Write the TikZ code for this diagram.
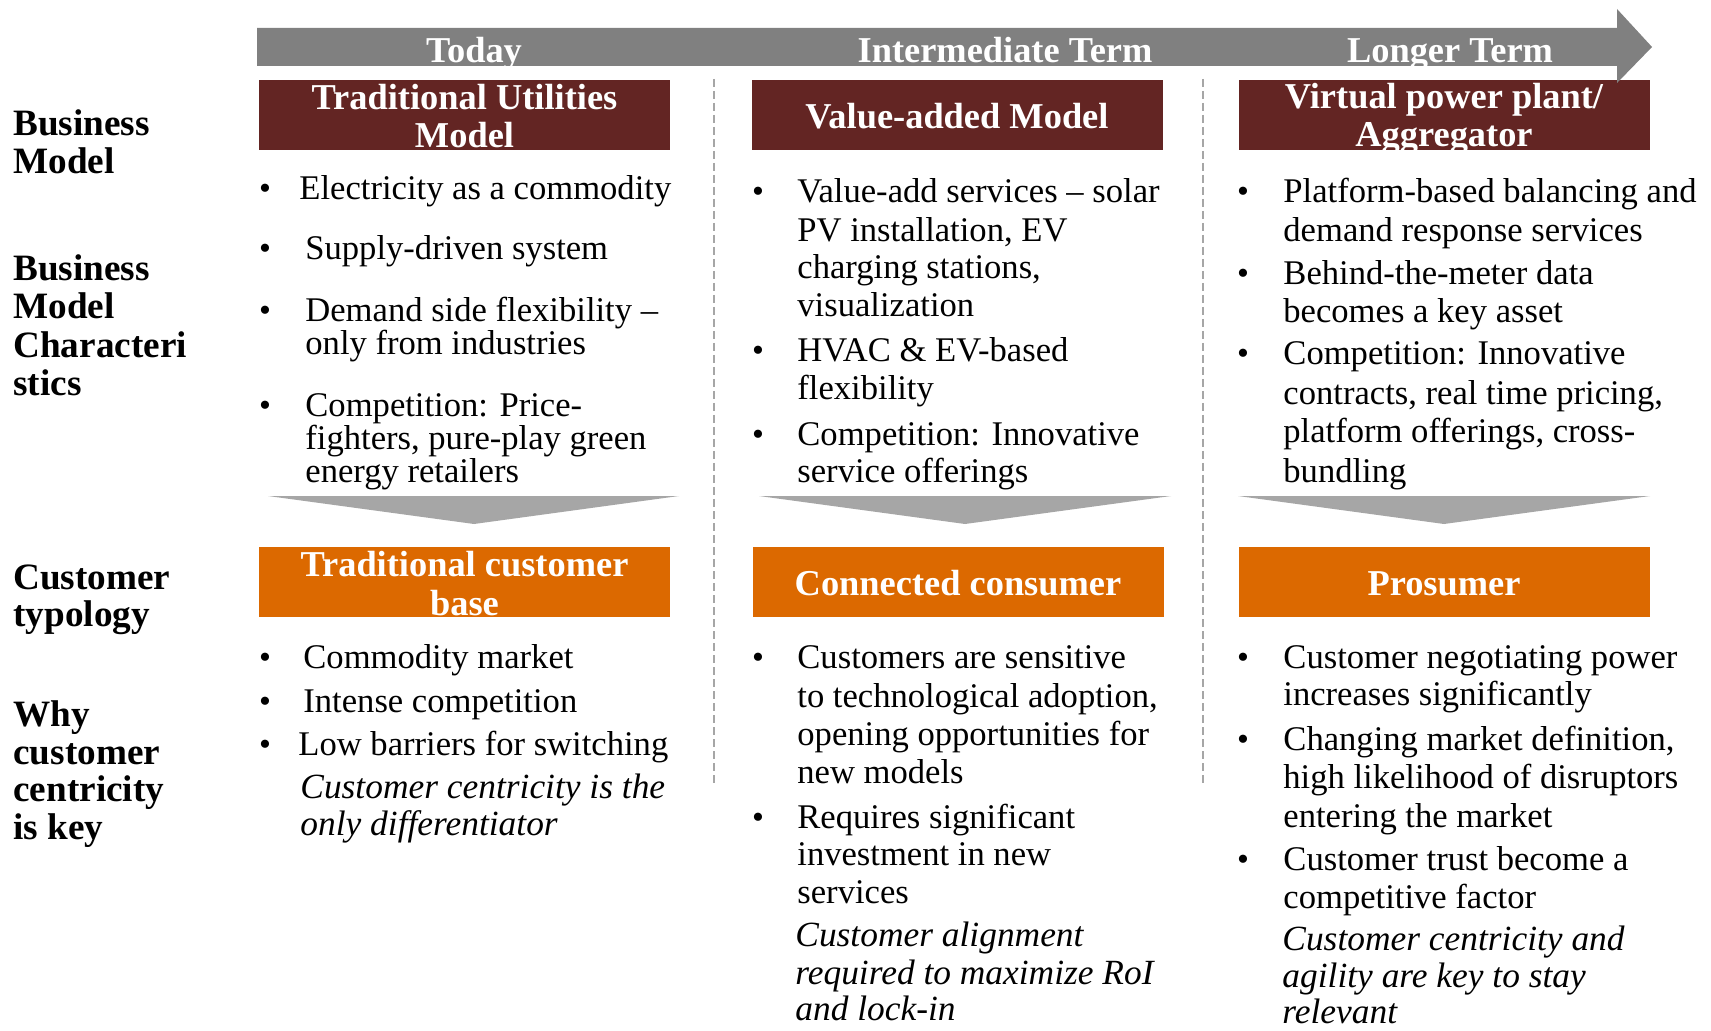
\documentclass[tikz,border=0pt]{standalone}
\usepackage{fontspec}
\setmainfont{Liberation Serif}
\definecolor{modelred}{HTML}{632523}
\definecolor{typeorange}{HTML}{DC6900}
\definecolor{timegray}{HTML}{808080}
\definecolor{chevgray}{HTML}{A6A6A6}
\definecolor{divgray}{HTML}{A6A6A6}
\begin{document}
\begin{tikzpicture}[x=0.5pt,y=-0.5pt,
  body/.style={anchor=base west, inner sep=0pt, font=\fontsize{17.3}{20}\selectfont},
  note/.style={anchor=base west, inner sep=0pt, font=\fontsize{17.7}{20}\selectfont\itshape},
  dot/.style={anchor=base, inner sep=0pt, font=\fontsize{17}{20}\selectfont},
  rowlabel/.style={anchor=base west, inner sep=0pt, font=\fontsize{18.6}{20}\selectfont\bfseries},
  title/.style={anchor=base, inner sep=0pt, text=white, font=\fontsize{18.2}{20}\selectfont\bfseries},
  modelbox/.style={fill=modelred, draw=none, inner sep=0pt, minimum width=205.5pt, minimum height=35pt},
  typebox/.style={fill=typeorange, draw=none, inner sep=0pt, minimum width=205.5pt, minimum height=35pt},
  chevron/.style={fill=chevgray, draw=none},
  timeline/.style={fill=timegray, draw=none},
  divider/.style={draw=divgray, line width=1pt, dash pattern=on 4pt off 2pt}
]
\useasboundingbox (0,0) rectangle (1711,1031);
\fill[white] (0,0) rectangle (1711,1031);

% column dividers
\coordinate (d1t) at (714,79);  \coordinate (d1b) at (714,786);
\coordinate (d2t) at (1203,79); \coordinate (d2b) at (1203,786);
\draw[divider] (d1t) -- (d1b);
\draw[divider] (d2t) -- (d2b);

% business model boxes
\node[modelbox] (bm1) at (464.5,115) {};
\node[modelbox] (bm2) at (957,115) {};
\node[modelbox] (bm3) at (1444,115) {};

% customer typology boxes
\node[typebox] (ct1) at (464.5,582) {};
\node[typebox] (ct2) at (958,582) {};
\node[typebox] (ct3) at (1444,582) {};

% time line arrow
\fill[timeline] (257,28) -- (1617,28) -- (1617,9) -- (1652,47) -- (1617,83) -- (1617,66) -- (257,66) -- cycle;
\node[title] (tToday) at (474,63) {Today};
\node[title] (tMid) at (1005,63) {Intermediate Term};
\node[title] (tLong) at (1450,63) {Longer Term};

% chevrons from characteristics to customer typology
\fill[chevron] (268,496) -- (679,496) -- (474,524) -- cycle;
\fill[chevron] (759,496) -- (1171,496) -- (965,524) -- cycle;
\fill[chevron] (1238,496) -- (1650,496) -- (1444,524) -- cycle;

% box titles
\node[title] (bm1a) at (464.5,110) {Traditional Utilities};
\node[title] (bm1b) at (464.5,148) {Model};
\node[title] (bm2a) at (957,129) {Value-added Model};
\node[title] (bm3a) at (1444,109) {Virtual power plant/};
\node[title] (bm3b) at (1444,147) {Aggregator};
\node[title] (ct1a) at (464.5,576) {Traditional customer};
\node[title] (ct1b) at (464.5,615) {base};
\node[title] (ct2a) at (958,595) {Connected consumer};
\node[title] (ct3a) at (1444,595) {Prosumer};

% row labels
\node[rowlabel] (r1a) at (13,136) {Business};
\node[rowlabel] (r1b) at (13,174) {Model};
\node[rowlabel] (r2a) at (13,281) {Business};
\node[rowlabel] (r2b) at (13,319) {Model};
\node[rowlabel] (r2c) at (13,358) {Characteri};
\node[rowlabel] (r2d) at (13,396) {stics};
\node[rowlabel] (r3a) at (13,589) {Customer};
\node[rowlabel] (r3b) at (13,626) {typology};
\node[rowlabel] (r4a) at (13,726) {Why};
\node[rowlabel] (r4b) at (13,764) {customer};
\node[rowlabel] (r4c) at (13,801) {centricity};
\node[rowlabel] (r4d) at (13,839) {is key};

% column 1: today
\node[dot] (b11) at (265,200) {•};
\node[body] (c1a) at (299,200) {Electricity as a commodity};
\node[dot] (b12) at (265,260) {•};
\node[body] (c1b) at (305,260) {Supply-driven system};
\node[dot] (b13) at (265,322) {•};
\node[body] (c1c) at (305,322) {Demand side flexibility –};
\node[body] (c1d) at (305,355) {only from industries};
\node[dot] (b14) at (265,417) {•};
\node[body] (c1e) at (305,417) {Competition: Price-};
\node[body] (c1f) at (305,450) {fighters, pure-play green};
\node[body] (c1g) at (305,482) {energy retailers};

\node[dot] (b15) at (265,668) {•};
\node[body] (c1h) at (303,668) {Commodity market};
\node[dot] (b16) at (265,712) {•};
\node[body] (c1i) at (303,712) {Intense competition};
\node[dot] (b17) at (265,755) {•};
\node[body] (c1j) at (298,755) {Low barriers for switching};
\node[note] (c1k) at (300,798) {Customer centricity is the};
\node[note] (c1l) at (300,835) {only differentiator};

% column 2: intermediate term
\node[dot] (b21) at (758,203) {•};
\node[body] (c2a) at (797,203) {Value-add services – solar};
\node[body] (c2b) at (797,242) {PV installation, EV};
\node[body] (c2c) at (797,279) {charging stations,};
\node[body] (c2d) at (797,317) {visualization};
\node[dot] (b22) at (758,362) {•};
\node[body] (c2e) at (797,362) {HVAC \& EV-based};
\node[body] (c2f) at (797,400) {flexibility};
\node[dot] (b23) at (758,445) {•};
\node[body] (c2g) at (797,445) {Competition: Innovative};
\node[body] (c2h) at (797,482) {service offerings};

\node[dot] (b24) at (758,668) {•};
\node[body] (c2i) at (797,668) {Customers are sensitive};
\node[body] (c2j) at (797,707) {to technological adoption,};
\node[body] (c2k) at (797,745) {opening opportunities for};
\node[body] (c2l) at (797,783) {new models};
\node[dot] (b25) at (758,828) {•};
\node[body] (c2m) at (797,828) {Requires significant};
\node[body] (c2n) at (797,865) {investment in new};
\node[body] (c2o) at (797,903) {services};
\node[note] (c2p) at (795,946) {Customer alignment};
\node[note] (c2q) at (795,984) {required to maximize RoI};
\node[note] (c2r) at (795,1020) {and lock-in};

% column 3: longer term
\node[dot] (b31) at (1243,203) {•};
\node[body] (c3a) at (1283,203) {Platform-based balancing and};
\node[body] (c3b) at (1283,242) {demand response services};
\node[dot] (b32) at (1243,285) {•};
\node[body] (c3c) at (1283,285) {Behind-the-meter data};
\node[body] (c3d) at (1283,323) {becomes a key asset};
\node[dot] (b33) at (1243,365) {•};
\node[body] (c3e) at (1283,365) {Competition: Innovative};
\node[body] (c3f) at (1283,405) {contracts, real time pricing,};
\node[body] (c3g) at (1283,443) {platform offerings, cross-};
\node[body] (c3h) at (1283,482) {bundling};

\node[dot] (b34) at (1243,668) {•};
\node[body] (c3i) at (1283,668) {Customer negotiating power};
\node[body] (c3j) at (1283,705) {increases significantly};
\node[dot] (b35) at (1243,750) {•};
\node[body] (c3k) at (1283,750) {Changing market definition,};
\node[body] (c3l) at (1283,788) {high likelihood of disruptors};
\node[body] (c3m) at (1283,827) {entering the market};
\node[dot] (b36) at (1243,870) {•};
\node[body] (c3n) at (1283,870) {Customer trust become a};
\node[body] (c3o) at (1283,908) {competitive factor};
\node[note] (c3p) at (1282,950) {Customer centricity and};
\node[note] (c3q) at (1282,987) {agility are key to stay};
\node[note] (c3r) at (1282,1023) {relevant};
\end{tikzpicture}
\end{document}
